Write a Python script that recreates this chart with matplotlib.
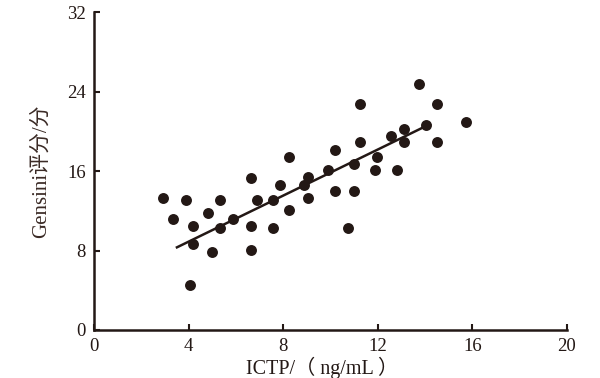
import numpy as np
import matplotlib
matplotlib.use('Agg')
import matplotlib.pyplot as plt

# values
ictp = [2.89, 3.90, 5.33, 3.33, 4.83, 4.17, 5.33, 5.89, 6.65, 6.88,
        6.65, 7.58, 7.58, 8.25, 7.86, 8.25, 9.06, 8.88, 9.06, 10.19,
        9.88, 10.19, 4.17, 4.98, 6.65, 4.06, 13.75, 11.26, 14.49, 15.72,
        13.12, 12.56, 14.04, 11.26, 13.12, 14.49, 11.95, 11.01, 11.88, 12.82,
        11.01, 10.73]
gensini = [13.25, 13.05, 13.05, 11.15, 11.80, 10.49, 10.23, 11.14, 15.29, 13.05,
           10.49, 13.05, 10.23, 17.40, 14.62, 12.07, 15.42, 14.62, 13.31, 18.11,
           16.10, 13.95, 8.68, 7.88, 8.02, 4.53, 24.72, 22.71, 22.71, 20.90,
           20.22, 19.55, 20.62, 18.91, 18.91, 18.91, 17.43, 16.73, 16.10, 16.10,
           13.95, 10.23]
fit_x = [3.5, 14.2]
fit_y = [8.32, 20.72]
xticks = [0, 4, 8, 12, 16, 20]
yticks = [0, 8, 16, 24, 32]

ink = '#231815'
fonts = ['Liberation Serif', 'Noto Sans CJK SC']
plt.rcParams['font.family'] = fonts

fig = plt.figure(figsize=(6, 3.78), dpi=100)
ax = fig.add_axes([0.157, 0.127, 0.788, 0.841])

ax.scatter(ictp, gensini, s=62, color=ink, linewidths=0, zorder=3)
ax.plot(fit_x, fit_y, color=ink, lw=1.8, zorder=2)

ax.set_xlim(0, 20)
ax.set_ylim(0, 32)
ax.set_xticks(xticks)
ax.set_yticks(yticks)
ax.tick_params(direction='in', length=4, width=1.5, labelsize=13.5, colors=ink, pad=6)
for s in ['top', 'right']:
    ax.spines[s].set_visible(False)
for s in ['left', 'bottom']:
    ax.spines[s].set_linewidth(1.8)
    ax.spines[s].set_color(ink)

ax.set_xlabel('ICTP/（ ng/mL ）', fontsize=14.5, color=ink)
ax.xaxis.set_label_coords(0.481, -0.085)
ax.set_ylabel('Gensini评分/分', fontsize=15, color='#3a2a25', labelpad=12)

fig.savefig('out.png', dpi=100)
